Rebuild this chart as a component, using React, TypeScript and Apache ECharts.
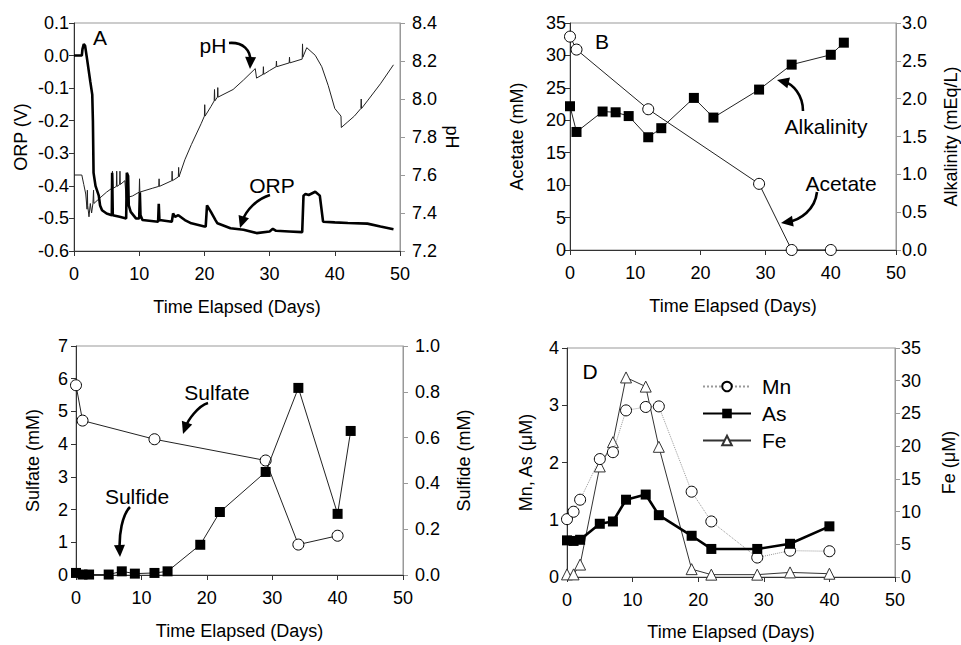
import React, { useEffect, useRef } from "react";
import * as echarts from "echarts";

// ---------- Panel A: ORP and pH (continuous logs) ----------
const orpDays = [0, 1.2, 1.3, 1.5, 1.7, 2.0, 2.5, 2.8, 2.9, 3.0, 3.3, 3.8, 4.0, 4.3, 5.0, 5.8, 5.85, 5.95, 7, 8.0, 8.1, 8.3, 8.4, 8.7, 9.5, 10.0, 10.1, 10.2, 10.5, 12.9, 13.0, 13.1, 15, 15.2, 15.5, 16, 17, 18, 20, 20.2, 20.4, 21, 21.7, 22, 24, 26, 28, 30, 30.5, 31, 33, 35, 35.2, 35.5, 36, 37, 37.7, 38.2, 40, 42, 45, 47, 49];
const orpValues = [0, 0, 0.02, 0.035, 0.03, -0.01, -0.08, -0.12, -0.2, -0.36, -0.4, -0.43, -0.46, -0.475, -0.485, -0.49, -0.36, -0.49, -0.495, -0.5, -0.36, -0.37, -0.46, -0.48, -0.5, -0.5, -0.42, -0.49, -0.505, -0.51, -0.455, -0.505, -0.51, -0.485, -0.495, -0.49, -0.505, -0.515, -0.525, -0.525, -0.46, -0.48, -0.505, -0.515, -0.53, -0.535, -0.545, -0.54, -0.532, -0.538, -0.54, -0.542, -0.43, -0.425, -0.428, -0.418, -0.43, -0.51, -0.512, -0.514, -0.516, -0.525, -0.533];

const phDays = [0, 1.2, 1.5, 1.8, 2.0, 2.05, 2.1, 2.3, 2.5, 2.7, 2.9, 3.0, 3.05, 4, 5, 5.8, 5.9, 6.0, 6.5, 6.55, 6.6, 7.0, 7.05, 7.1, 7.8, 8.0, 9.0, 10.0, 10.05, 10.1, 12, 13, 13.05, 13.1, 15, 15.05, 15.1, 16, 16.05, 16.1, 17, 18, 19.5, 20, 20.05, 20.1, 21, 21.5, 21.55, 21.6, 22, 22.05, 22.1, 24.4, 26, 27.8, 28.0, 29, 29.05, 29.1, 30, 31, 31.05, 31.1, 33, 33.05, 33.1, 35, 35.05, 35.1, 35.7, 37, 38, 39, 40, 40.95, 41, 42, 43, 44, 44.05, 44.1, 45, 47, 49];
const phValues = [7.6, 7.6, 7.55, 7.5, 7.42, 7.52, 7.44, 7.38, 7.45, 7.4, 7.45, 7.52, 7.45, 7.48, 7.51, 7.53, 7.62, 7.53, 7.54, 7.62, 7.54, 7.55, 7.62, 7.55, 7.57, 7.48, 7.49, 7.51, 7.58, 7.51, 7.53, 7.54, 7.58, 7.54, 7.57, 7.62, 7.57, 7.59, 7.64, 7.59, 7.68, 7.76, 7.87, 7.91, 7.97, 7.91, 7.96, 7.99, 8.05, 7.99, 8.01, 8.06, 8.01, 8.05, 8.1, 8.16, 8.11, 8.13, 8.17, 8.13, 8.15, 8.17, 8.2, 8.17, 8.19, 8.22, 8.19, 8.21, 8.29, 8.22, 8.27, 8.23, 8.17, 8.07, 7.95, 7.91, 7.85, 7.88, 7.91, 7.95, 8.0, 7.95, 7.99, 8.08, 8.18];

// ---------- Panel B: Acetate and Alkalinity ----------
const acetateDays = [0, 1, 12, 29, 34, 40];
const acetateValues = [32.9, 30.9, 21.7, 10.2, 0, 0];
const alkDays = [0, 1, 5, 7, 9, 12, 14, 19, 22, 29, 34, 40, 42];
const alkValues = [1.9, 1.56, 1.83, 1.82, 1.77, 1.49, 1.61, 2.01, 1.75, 2.12, 2.45, 2.58, 2.74];

// ---------- Panel C: Sulfate and Sulfide ----------
const sulfateDays = [0, 1, 12, 29, 34, 40];
const sulfateValues = [5.8, 4.72, 4.15, 3.5, 0.93, 1.2];
const sulfideDays = [0, 1, 2, 5, 7, 9, 12, 14, 19, 22, 29, 34, 40, 42];
const sulfideValues = [0.009, 0.002, 0.002, 0.002, 0.016, 0.006, 0.009, 0.016, 0.132, 0.275, 0.45, 0.817, 0.267, 0.629];

// ---------- Panel D: Mn, As, Fe ----------
const metalDays = [0, 1, 2, 5, 7, 9, 12, 14, 19, 22, 29, 34, 40];
const mnValues = [1.01, 1.14, 1.35, 2.06, 2.18, 2.91, 2.97, 2.98, 1.49, 0.97, 0.34, 0.46, 0.45];
const asValues = [0.64, 0.63, 0.65, 0.93, 0.97, 1.35, 1.44, 1.08, 0.72, 0.49, 0.49, 0.58, 0.885];
const feValues = [0.4, 0.4, 1.9, 16.9, 20.6, 30.5, 29.1, 19.9, 1.2, 0.36, 0.36, 0.7, 0.5];

const xTitle = "Time Elapsed (Days)";
const FONT = "'Liberation Sans', Arial, Helvetica, sans-serif";
const TICK = 18;
const TITLE = 18;
const ANNOT = 21;

const zip = (xs: number[], ys: number[]) => xs.map((x, i) => [x, ys[i]]);

function arrow(p0: number[], c1: number[], c2: number[], tip: number[], head = 12, width = 11): any[] {
  const dx = tip[0] - c2[0];
  const dy = tip[1] - c2[1];
  const len = Math.sqrt(dx * dx + dy * dy) || 1;
  const ux = dx / len;
  const uy = dy / len;
  const bx = tip[0] - ux * head;
  const by = tip[1] - uy * head;
  const px = -uy;
  const py = ux;
  const ex = tip[0] - ux * head * 0.6;
  const ey = tip[1] - uy * head * 0.6;
  return [
    {
      type: "bezierCurve",
      shape: { x1: p0[0], y1: p0[1], cpx1: c1[0], cpy1: c1[1], cpx2: c2[0], cpy2: c2[1], x2: ex, y2: ey },
      style: { stroke: "#000", lineWidth: 2.6, fill: null },
      z: 100,
    },
    {
      type: "polygon",
      shape: {
        points: [
          [tip[0], tip[1]],
          [bx + (px * width) / 2, by + (py * width) / 2],
          [bx - (px * width) / 2, by - (py * width) / 2],
        ],
      },
      style: { fill: "#000" },
      z: 100,
    },
  ];
}

function label(text: string, x: number, y: number, size = ANNOT): any {
  return {
    type: "text",
    x,
    y,
    style: { text, fontSize: size, fontFamily: FONT, fill: "#000", align: "center", verticalAlign: "middle" },
    z: 100,
  };
}

function xAxis(gridIndex: number, nameGap: number): any {
  return {
    type: "value",
    gridIndex,
    min: 0,
    max: 50,
    interval: 10,
    name: xTitle,
    nameLocation: "middle",
    nameGap,
    nameTextStyle: { fontSize: TITLE, color: "#000", fontFamily: FONT },
    axisLine: { show: true, onZero: false, lineStyle: { color: "#333", width: 1 } },
    axisTick: { show: true, inside: false, length: 5, lineStyle: { color: "#333" } },
    axisLabel: { fontSize: TICK, color: "#000", margin: 14, fontFamily: FONT },
    splitLine: { show: false },
  };
}

function yAxis(gridIndex: number, side: "left" | "right", opts: any): any {
  const left = side === "left";
  const col = left ? "#333" : "#999";
  return {
    type: "value",
    gridIndex,
    position: side,
    min: opts.min,
    max: opts.max,
    interval: opts.interval,
    name: opts.name,
    nameLocation: "middle",
    nameGap: opts.nameGap,
    nameRotate: opts.nameRotate,
    nameTextStyle: { fontSize: TITLE, color: "#000", fontFamily: FONT },
    axisLine: { show: true, onZero: false, lineStyle: { color: col, width: 1 } },
    axisTick: { show: true, inside: false, length: 5, lineStyle: { color: col } },
    axisLabel: {
      fontSize: TICK,
      color: "#000",
      margin: opts.margin,
      fontFamily: FONT,
      formatter: opts.fmt ? (v: number) => v.toFixed(opts.fmt) : undefined,
    },
    splitLine: { show: false },
  };
}

export default function App() {
  const ref = useRef<HTMLDivElement>(null);
  useEffect(() => {
    if (!ref.current) return;
    const chart = echarts.init(ref.current, undefined, { renderer: "svg" });
    const openCircle = { color: "#fff", borderColor: "#000", borderWidth: 1 };
    const option: any = {
      animation: false,
      backgroundColor: "#fff",
      textStyle: { fontFamily: FONT },
      grid: [
        { left: 74, top: 23, width: 326, height: 228, show: true, borderColor: "#999", borderWidth: 1, backgroundColor: "transparent" },
        { left: 570, top: 23, width: 327, height: 227, show: true, borderColor: "#999", borderWidth: 1, backgroundColor: "transparent" },
        { left: 76, top: 346, width: 327, height: 229, show: true, borderColor: "#999", borderWidth: 1, backgroundColor: "transparent" },
        { left: 567, top: 348, width: 328, height: 229, show: true, borderColor: "#999", borderWidth: 1, backgroundColor: "transparent" },
      ],
      xAxis: [xAxis(0, 47), xAxis(1, 47), xAxis(2, 47), xAxis(3, 46)],
      yAxis: [
        yAxis(0, "left", { min: -0.6, max: 0.1, interval: 0.1, name: "ORP (V)", nameGap: 44, margin: 5, fmt: 1 }),
        yAxis(0, "right", { min: 7.2, max: 8.4, interval: 0.2, name: "pH", nameGap: 43, nameRotate: -90, margin: 12, fmt: 1 }),
        yAxis(1, "left", { min: 0, max: 35, interval: 5, name: "Acetate (mM)", nameGap: 44, margin: 4 }),
        yAxis(1, "right", { min: 0, max: 3, interval: 0.5, name: "Alkalinity (mEq/L)", nameGap: 46, margin: 6, fmt: 1 }),
        yAxis(2, "left", { min: 0, max: 7, interval: 1, name: "Sulfate (mM)", nameGap: 34, margin: 8 }),
        yAxis(2, "right", { min: 0, max: 1, interval: 0.2, name: "Sulfide (mM)", nameGap: 52, margin: 12, fmt: 1 }),
        yAxis(3, "left", { min: 0, max: 4, interval: 1, name: "Mn, As (μM)", nameGap: 32, margin: 8 }),
        yAxis(3, "right", { min: 0, max: 35, interval: 5, name: "Fe (μM)", nameGap: 45, margin: 6 }),
      ],
      legend: {
        data: ["Mn", "As", "Fe"],
        orient: "vertical",
        left: 697,
        top: 371,
        itemWidth: 48,
        itemHeight: 12,
        itemGap: 6,
        textStyle: { fontSize: ANNOT, color: "#000", fontFamily: FONT, padding: [0, 0, 0, 6] },
      },
      series: [
        {
          name: "ORP",
          type: "line",
          xAxisIndex: 0,
          yAxisIndex: 0,
          data: zip(orpDays, orpValues),
          showSymbol: false,
          symbol: "none",
          lineStyle: { color: "#000", width: 2.6 },
          z: 3,
        },
        {
          name: "pH",
          type: "line",
          xAxisIndex: 0,
          yAxisIndex: 1,
          data: zip(phDays, phValues),
          showSymbol: false,
          symbol: "none",
          lineStyle: { color: "#222", width: 1 },
          z: 2,
        },
        {
          name: "Acetate",
          type: "line",
          xAxisIndex: 1,
          yAxisIndex: 2,
          data: zip(acetateDays, acetateValues),
          symbol: "circle",
          symbolSize: 11,
          itemStyle: openCircle,
          lineStyle: { color: "#222", width: 1 },
          z: 3,
        },
        {
          name: "Alkalinity",
          type: "line",
          xAxisIndex: 1,
          yAxisIndex: 3,
          data: zip(alkDays, alkValues),
          symbol: "rect",
          symbolSize: 10,
          itemStyle: { color: "#000" },
          lineStyle: { color: "#222", width: 1 },
          z: 2,
        },
        {
          name: "Sulfate",
          type: "line",
          xAxisIndex: 2,
          yAxisIndex: 4,
          data: zip(sulfateDays, sulfateValues),
          symbol: "circle",
          symbolSize: 11,
          itemStyle: openCircle,
          lineStyle: { color: "#222", width: 1 },
          z: 2,
        },
        {
          name: "Sulfide",
          type: "line",
          xAxisIndex: 2,
          yAxisIndex: 5,
          data: zip(sulfideDays, sulfideValues),
          symbol: "rect",
          symbolSize: 10,
          itemStyle: { color: "#000" },
          lineStyle: { color: "#222", width: 1 },
          z: 3,
        },
        {
          name: "Mn",
          type: "line",
          xAxisIndex: 3,
          yAxisIndex: 6,
          data: zip(metalDays, mnValues),
          symbol: "circle",
          symbolSize: 11,
          itemStyle: openCircle,
          lineStyle: { color: "#999", width: 1, type: "dotted" },
          z: 3,
        },
        {
          name: "As",
          type: "line",
          xAxisIndex: 3,
          yAxisIndex: 6,
          data: zip(metalDays, asValues),
          symbol: "rect",
          symbolSize: 10,
          itemStyle: { color: "#000" },
          lineStyle: { color: "#000", width: 2.6 },
          z: 4,
        },
        {
          name: "Fe",
          type: "line",
          xAxisIndex: 3,
          yAxisIndex: 7,
          data: zip(metalDays, feValues),
          symbol: "triangle",
          symbolSize: 11,
          itemStyle: { color: "#fff", borderColor: "#333", borderWidth: 1 },
          lineStyle: { color: "#333", width: 1 },
          z: 2,
        },
      ],
      graphic: [
        label("A", 100, 37),
        label("B", 602, 41),
        label("D", 590, 371),
        label("pH", 213, 45),
        label("ORP", 272, 185),
        label("Alkalinity", 826, 126),
        label("Acetate", 841, 183),
        label("Sulfate", 217, 392),
        label("Sulfide", 137, 496),
        ...arrow([229, 43], [243, 42], [251, 50], [250, 69]),
        ...arrow([270, 195], [257, 199], [246, 210], [240, 228]),
        ...arrow([803, 111], [803, 95], [793, 84], [777, 80]),
        ...arrow([817, 192], [815, 210], [800, 220], [781, 223]),
        ...arrow([208, 403], [198, 406], [188, 420], [183, 434]),
        ...arrow([130, 507], [122, 515], [119, 535], [120, 557]),
      ],
    };
    chart.setOption(option);
    return () => chart.dispose();
  }, []);
  return (
    <div
      ref={ref}
      style={{ position: "fixed", left: 0, top: 0, width: 961, height: 645, background: "#fff" }}
    />
  );
}
